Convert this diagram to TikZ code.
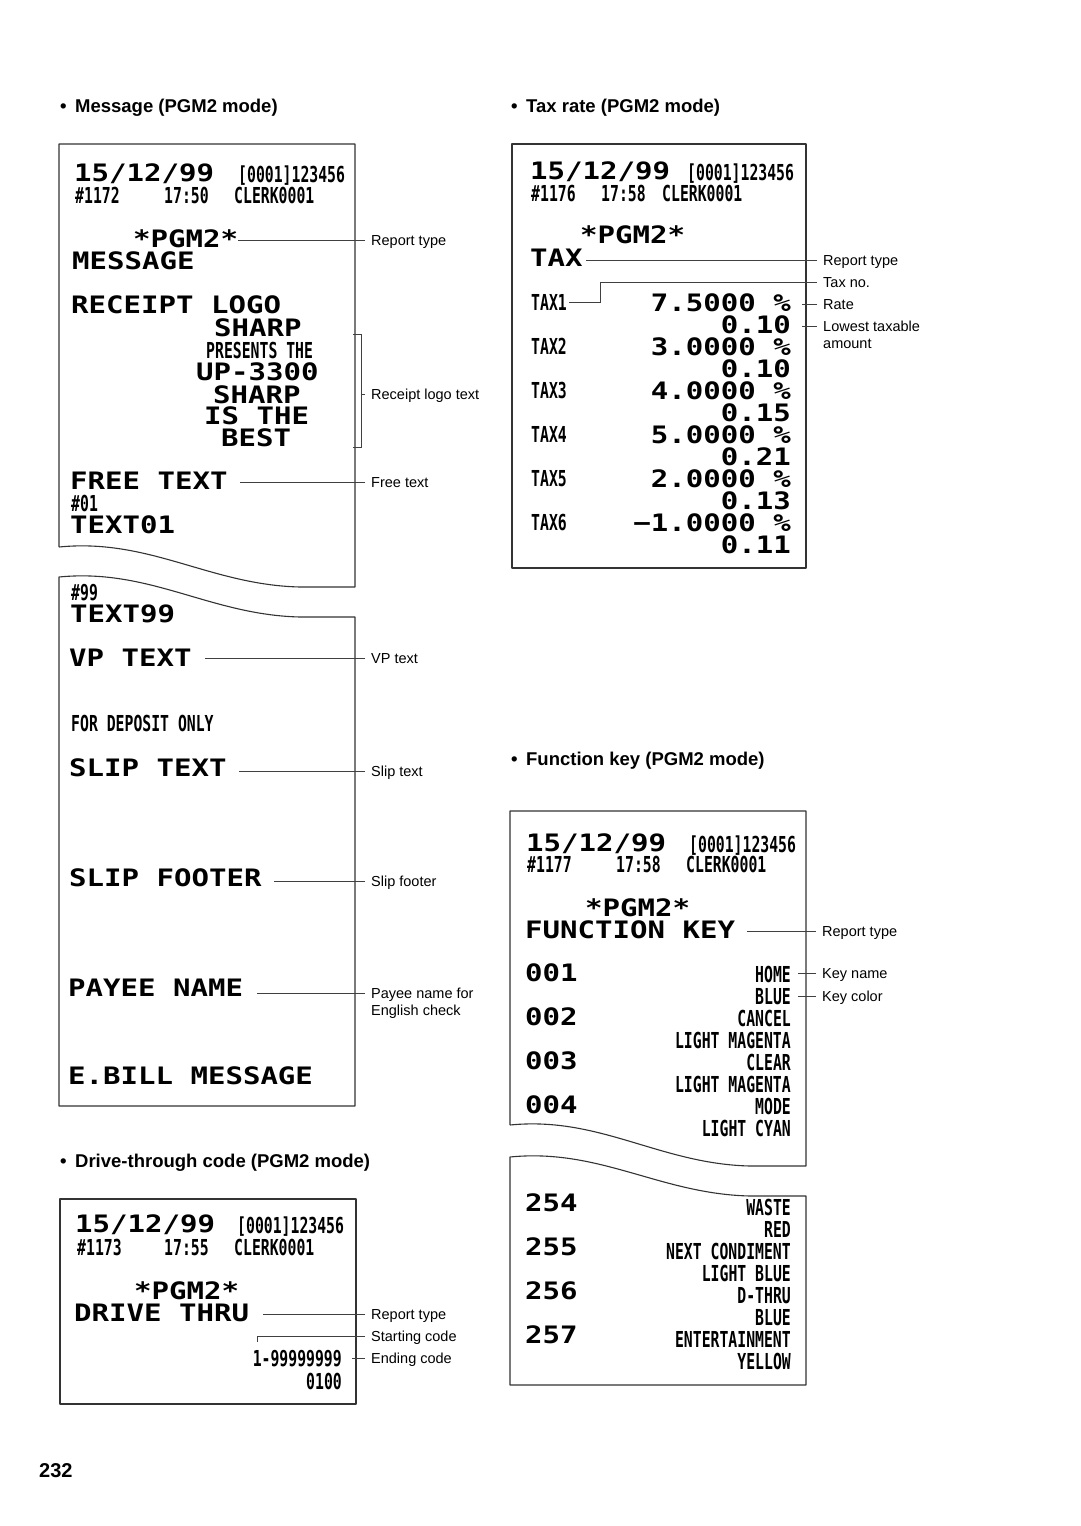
\documentclass[tikz,border=0pt]{standalone}
\usepackage{fontspec}
\setmainfont{Liberation Sans}
\newfontfamily\rcptwide[FakeStretch=1.21]{DejaVu Sans Mono}
\newfontfamily\rcptnarrow[FakeStretch=0.672]{DejaVu Sans Mono}
\usepackage{tikz}
\usetikzlibrary{positioning}

\begin{document}
\begin{tikzpicture}[
        x=1pt, y=-1pt,
        paper/.style={draw=black!80, line width=1.1pt, line join=round},
        wide/.style={font=\rcptwide\bfseries\fontsize{24}{24}\selectfont,
            inner sep=0pt, text height=17.5pt, text depth=0pt, anchor=west},
        narrow/.style={font=\rcptnarrow\bfseries\fontsize{22}{22}\selectfont,
            inner sep=0pt, text height=16pt, text depth=0pt, anchor=west},
        lbl/.style={font=\fontsize{14.5}{17}\selectfont, inner xsep=6pt,
            inner ysep=0pt, text height=10.4pt, text depth=0pt, anchor=west},
        heading/.style={font=\bfseries\fontsize{18.5}{22}\selectfont,
            inner sep=0pt, text height=13.2pt, text depth=0pt, anchor=west},
        callout/.style={draw=black!75, line width=0.7pt},
        gap/.style={shorten >=#1}
    ]
    \useasboundingbox (0,0) rectangle (1080,1526);

    \node[heading] (hmsg) at (60,106) {\textbullet\hspace{8.5pt}Message (PGM2 mode)};
    \node[heading] (htax) at (511,106) {\textbullet\hspace{8.5pt}Tax rate (PGM2 mode)};
    \node[heading] (hfun) at (511,759) {\textbullet\hspace{8.5pt}Function key (PGM2 mode)};
    \node[heading] (hdrv) at (60,1161) {\textbullet\hspace{8.5pt}Drive-through code (PGM2 mode)};
    \node[heading, font=\bfseries\fontsize{20}{24}\selectfont, text height=14.3pt] (pageno) at (39,1470) {232};

    % message
    \draw[paper] (59,547) -- (59,144) -- (355,144) -- (355,587) -- (300,587)
        .. controls (210,585) and (150,538) .. (59,547);
    \draw[paper] (59,577) .. controls (150,568) and (210,615) .. (300,617)
        -- (355,617) -- (355,1106) -- (59,1106) -- cycle;

    \node[wide] (mdate) at (74,173) {15/12/99};
    \node[narrow] (mcons) at (238,174) {[0001]123456};
    \node[narrow] (mno) at (75,195) {\#1172};
    \node[narrow] (mtime) at (164,195) {17:50};
    \node[narrow] (mclerk) at (234,195) {CLERK0001};
    \node[wide] (mpgm) at (133,239) {*PGM2*};
    \node[wide] (mtype) at (72,261) {MESSAGE};
    \node[wide] (mlogo) at (71,305) {RECEIPT LOGO};
    \node[wide] (mlogoa) at (214,328) {SHARP};
    \node[narrow] (mlogob) at (206,350) {PRESENTS THE};
    \node[wide] (mlogoc) at (196,372) {UP-3300};
    \node[wide] (mlogod) at (213,395) {SHARP};
    \node[wide] (mlogoe) at (204,416) {IS THE};
    \node[wide] (mlogof) at (221,438) {BEST};
    \node[wide] (mfree) at (70,481) {FREE TEXT};
    \node[narrow] (mfreea) at (71,503) {\#01};
    \node[wide] (mfreeb) at (70,525) {TEXT01};
    \node[narrow] (mfreec) at (71,592) {\#99};
    \node[wide] (mfreed) at (70,614) {TEXT99};
    \node[wide] (mvp) at (69,658) {VP TEXT};
    \node[narrow] (mdep) at (71,723) {FOR DEPOSIT ONLY};
    \node[wide] (mslip) at (69,768) {SLIP TEXT};
    \node[wide] (mfoot) at (69,878) {SLIP FOOTER};
    \node[wide] (mpayee) at (68,988) {PAYEE NAME};
    \node[wide] (mebill) at (68,1076) {E.BILL MESSAGE};

    \node[lbl] (lmtype) at (365,240) {Report type};
    \node[lbl] (lmlogo) at (365,394) {Receipt logo text};
    \node[lbl] (lmfree) at (365,482) {Free text};
    \node[lbl] (lmvp) at (365,658) {VP text};
    \node[lbl] (lmslip) at (365,771) {Slip text};
    \node[lbl] (lmfoot) at (365,881) {Slip footer};
    \node[lbl] (lmpayee) at (365,993) {Payee name for};
    \node[lbl] (lmpayeeb) at (365,1010) {English check};

    \coordinate (mbtop) at (353,334);
    \coordinate (mbbot) at (353,447);
    \draw[callout] (lmtype.west) -- (lmtype.west -| mpgm.east);
    \draw[callout] (mbtop) -| ([xshift=8pt]mbbot) -- (mbbot);
    \draw[callout] (lmlogo.west) -- ++(-4,0);
    \draw[callout, gap=12pt] (lmfree.west) -- (lmfree.west -| mfree.east);
    \draw[callout, gap=13pt] (lmvp.west) -- (lmvp.west -| mvp.east);
    \draw[callout, gap=12pt] (lmslip.west) -- (lmslip.west -| mslip.east);
    \draw[callout, gap=12pt] (lmfoot.west) -- (lmfoot.west -| mfoot.east);
    \draw[callout, gap=14pt] (lmpayee.west) -- (lmpayee.west -| mpayee.east);

    % tax
    \draw[paper] (512,144) rectangle (806,568);

    \node[wide] (tdate) at (530,171) {15/12/99};
    \node[narrow] (tcons) at (687,172) {[0001]123456};
    \node[narrow] (tno) at (531,193) {\#1176};
    \node[narrow] (ttime) at (601,193) {17:58};
    \node[narrow] (tclerk) at (662,193) {CLERK0001};
    \node[wide] (tpgm) at (580,235) {*PGM2*};
    \node[wide] (ttype) at (530,258) {TAX};
    \foreach \k/\rate/\low [count=\i from 0] in
        {1/7.5000/0.10, 2/3.0000/0.10, 3/4.0000/0.15,
         4/5.0000/0.21, 5/2.0000/0.13, 6/−1.0000/0.11} {
        \node[narrow] (ttax\k) at (531,302.5+44*\i) {TAX\k};
        \node[wide, anchor=east] (trate\k) at (791,302.5+44*\i) {\rate{} \%};
        \node[wide, anchor=east] (tlow\k) at (791,324.5+44*\i) {\low};
    }

    \node[lbl] (lttype) at (817,260) {Report type};
    \node[lbl] (ltno) at (817,282) {Tax no.};
    \node[lbl] (ltrate) at (817,304) {Rate};
    \node[lbl] (ltlow) at (817,326) {Lowest taxable};
    \node[lbl] (ltlowb) at (817,343) {amount};

    \coordinate (tbend) at (600,282);
    \draw[callout, gap=3pt] (lttype.west) -- (lttype.west -| ttype.east);
    \draw[callout, gap=2pt] (ltno.west) -- (tbend) |- (ttax1.east);
    \draw[callout, gap=11pt] (ltrate.west) -- (ltrate.west -| trate1.east);
    \draw[callout, gap=11pt] (ltlow.west) -- (ltlow.west -| tlow1.east);

    % function key
    \draw[paper] (510,1125) -- (510,811) -- (806,811) -- (806,1166) -- (750,1166)
        .. controls (660,1164) and (600,1116) .. (510,1125);
    \draw[paper] (510,1157) .. controls (600,1148) and (660,1194) .. (750,1196)
        -- (806,1196) -- (806,1385) -- (510,1385) -- cycle;

    \node[wide] (fdate) at (526,843) {15/12/99};
    \node[narrow] (fcons) at (689,844) {[0001]123456};
    \node[narrow] (fno) at (527,864) {\#1177};
    \node[narrow] (ftime) at (616,864) {17:58};
    \node[narrow] (fclerk) at (686,864) {CLERK0001};
    \node[wide] (fpgm) at (585,908) {*PGM2*};
    \node[wide] (ftype) at (525,930) {FUNCTION KEY};
    \foreach \c/\nm/\col [count=\i from 0] in
        {001/HOME/BLUE, 002/CANCEL/LIGHT MAGENTA,
         003/CLEAR/LIGHT MAGENTA, 004/MODE/LIGHT CYAN} {
        \node[wide] (fc\c) at (525,973+44*\i) {\c};
        \node[narrow, anchor=east] (fn\c) at (791,974+44*\i) {\nm};
        \node[narrow, anchor=east] (fk\c) at (791,996+44*\i) {\col};
    }
    \foreach \c/\nm/\col [count=\i from 0] in
        {254/WASTE/RED, 255/NEXT CONDIMENT/LIGHT BLUE,
         256/D-THRU/BLUE, 257/ENTERTAINMENT/YELLOW} {
        \node[wide] (fc\c) at (525,1203+44*\i) {\c};
        \node[narrow, anchor=east] (fn\c) at (791,1207+44*\i) {\nm};
        \node[narrow, anchor=east] (fk\c) at (791,1229+44*\i) {\col};
    }

    \node[lbl] (lftype) at (816,931) {Report type};
    \node[lbl] (lfname) at (816,973) {Key name};
    \node[lbl] (lfcol) at (816,996) {Key color};

    \draw[callout, gap=12pt] (lftype.west) -- (lftype.west -| ftype.east);
    \draw[callout, gap=7pt] (lfname.west) -- (lfname.west -| fn001.east);
    \draw[callout, gap=7pt] (lfcol.west) -- (lfcol.west -| fk001.east);

    % drive-through
    \draw[paper] (60,1199) rectangle (356,1404);

    \node[wide] (ddate) at (75,1224) {15/12/99};
    \node[narrow] (dcons) at (237,1225) {[0001]123456};
    \node[narrow] (dno) at (77,1247) {\#1173};
    \node[narrow] (dtime) at (164,1247) {17:55};
    \node[narrow] (dclerk) at (234,1247) {CLERK0001};
    \node[wide] (dpgm) at (134,1291) {*PGM2*};
    \node[wide] (dtype) at (74,1313) {DRIVE THRU};
    \node[narrow, anchor=east] (dend) at (342,1358) {1-99999999};
    \node[narrow, anchor=east] (dcode) at (342,1381) {0100};

    \node[lbl] (ldtype) at (365,1314) {Report type};
    \node[lbl] (ldstart) at (365,1336) {Starting code};
    \node[lbl] (ldend) at (365,1358) {Ending code};

    \coordinate (dstart) at (257,1342);
    \draw[callout, gap=14pt] (ldtype.west) -- (ldtype.west -| dtype.east);
    \draw[callout] (ldstart.west) -| (dstart);
    \draw[callout, gap=10pt] (ldend.west) -- (ldend.west -| dend.east);
\end{tikzpicture}
\end{document}
